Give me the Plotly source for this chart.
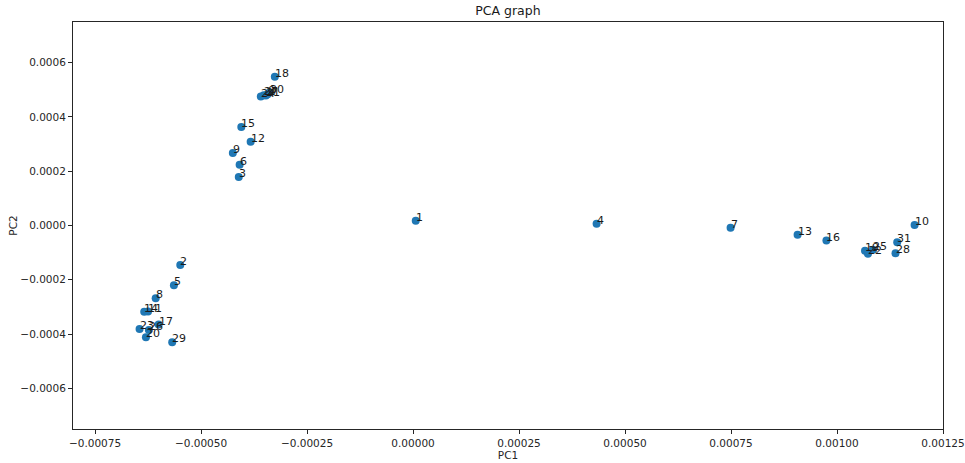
import plotly.graph_objects as go

# Sample indices and their first two principal-component scores
labels = [str(i) for i in range(32)]
pc1 = [
    -0.000343, 0.0000064, -0.000549, -0.000411, 0.000433, -0.000564, -0.000409, 0.000749,
    -0.000607, -0.000425, 0.001183, -0.000625, -0.000383, 0.000907, -0.000634, -0.000405,
    0.000975, -0.000600, -0.000326, 0.001066, -0.000630, -0.000347, 0.001073, -0.000645,
    -0.000359, 0.001085, -0.000623, -0.000352, 0.001138, -0.000568, -0.000338, 0.001142,
]
pc2 = [
    0.000484, 0.0000173, -0.000146, 0.000179, 0.000006, -0.000220, 0.000224, -0.0000085,
    -0.000268, 0.000267, 0.0000015, -0.000317, 0.000309, -0.0000343, -0.000318, 0.000363,
    -0.0000553, -0.000365, 0.000548, -0.0000934, -0.000412, 0.000479, -0.000104, -0.000381,
    0.000475, -0.0000897, -0.000385, 0.000480, -0.000102, -0.000430, 0.000490, -0.0000613,
]

x_ticks = [-0.00075, -0.0005, -0.00025, 0.0, 0.00025, 0.0005, 0.00075, 0.001, 0.00125]
y_ticks = [-0.0006, -0.0004, -0.0002, 0.0, 0.0002, 0.0004, 0.0006]

FONT = "DejaVu Sans"

fig = go.Figure()
fig.add_trace(go.Scatter(
    x=pc1, y=pc2, mode="markers",
    marker=dict(color="#1f77b4", size=8, line=dict(width=0)),
    showlegend=False, hoverinfo="skip",
))

for lab, xv, yv in zip(labels, pc1, pc2):
    fig.add_annotation(
        x=xv, y=yv, text=lab, showarrow=False,
        xanchor="left", yanchor="bottom", xshift=-2, yshift=-5,
        font=dict(family=FONT, size=11, color="#1a1a1a"),
    )

axis_common = dict(
    showgrid=False, zeroline=False, showline=True, mirror=True, automargin=False,
    linecolor="#262626", linewidth=1, ticks="outside", ticklen=4,
    tickcolor="#262626", tickfont=dict(family=FONT, size=10.5, color="#262626"),
)

fig.update_layout(
    width=965, height=463,
    margin=dict(l=73, r=22, t=22, b=34),
    paper_bgcolor="white", plot_bgcolor="white",
    title=dict(text="PCA graph", x=0.5263, xanchor="center", y=0.976, yanchor="middle",
               font=dict(family=FONT, size=12.5, color="#1a1a1a")),
    xaxis=dict(range=[-0.000802, 0.00125], tickvals=x_ticks, tickformat=".5f",
               title=dict(text="PC1", font=dict(family=FONT, size=10.5, color="#262626"), standoff=4),
               **axis_common),
    yaxis=dict(range=[-0.00075, 0.00075], tickvals=y_ticks, tickformat=".4f",
               title=dict(text="PC2", font=dict(family=FONT, size=10.5, color="#262626"), standoff=0),
               **axis_common),
)

fig.write_html("out.html")
